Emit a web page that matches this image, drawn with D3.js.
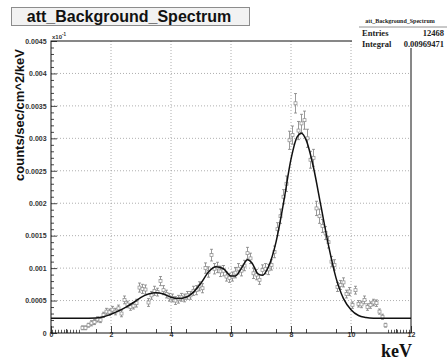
<!DOCTYPE html>
<html>
<head>
<meta charset="utf-8">
<script src="https://cdn.jsdelivr.net/npm/d3@7"></script>
<style>
  body { margin: 0; background: #fff; }
  svg { display: block; }
</style>
</head>
<body>
<div id="chart"></div>
<script>
// bin centres (keV) and measured rates
const energies = [
  1.05, 1.15, 1.25, 1.35, 1.45, 1.55, 1.65, 1.75, 1.85, 1.95,
  2.05, 2.15, 2.25, 2.35, 2.45, 2.55, 2.65, 2.75, 2.85, 2.95,
  3.05, 3.15, 3.25, 3.35, 3.45, 3.55, 3.65, 3.75, 3.85, 3.95,
  4.05, 4.15, 4.25, 4.35, 4.45, 4.55, 4.65, 4.75, 4.85, 4.95,
  5.05, 5.15, 5.25, 5.35, 5.45, 5.55, 5.65, 5.75, 5.85, 5.95,
  6.05, 6.15, 6.25, 6.35, 6.45, 6.55, 6.65, 6.75, 6.85, 6.95,
  7.05, 7.15, 7.25, 7.35, 7.45, 7.55, 7.65, 7.75, 7.85, 7.95,
  8.05, 8.15, 8.25, 8.35, 8.45, 8.55, 8.65, 8.75, 8.85, 8.95,
  9.05, 9.15, 9.25, 9.35, 9.45, 9.55, 9.65, 9.75, 9.85, 9.95,
  10.05, 10.15, 10.25, 10.35, 10.45, 10.55, 10.65, 10.75, 10.85, 10.95,
  11.05, 11.15
];
const rates = [
  0.00008, 0.00008, 0.00012, 0.00015, 0.00017, 0.00021, 0.00020, 0.00028, 0.00033, 0.00032,
  0.00036, 0.00033, 0.00038, 0.00030, 0.00051, 0.00044, 0.00040, 0.00042, 0.00046, 0.00070,
  0.00068, 0.00067, 0.00047, 0.00058, 0.00065, 0.00063, 0.00080, 0.00066, 0.00060, 0.00055,
  0.00054, 0.00050, 0.00052, 0.00055, 0.00054, 0.00058, 0.00058, 0.00065, 0.00066, 0.00072,
  0.00069, 0.00100, 0.00094, 0.00120, 0.00099, 0.00101, 0.00095, 0.00096, 0.00087, 0.00085,
  0.00087, 0.00093, 0.00099, 0.00096, 0.00104, 0.00123, 0.00115, 0.00092, 0.00090, 0.00082,
  0.00097, 0.00099, 0.00098, 0.00105, 0.00125, 0.00160, 0.00180, 0.00210, 0.00230, 0.00297,
  0.00305, 0.00354, 0.00312, 0.00323, 0.00328, 0.00300, 0.00267, 0.00270, 0.00192, 0.00180,
  0.00165, 0.00154, 0.00140, 0.00110, 0.00105, 0.00071, 0.00074, 0.00078, 0.00060, 0.00064,
  0.00043, 0.00066, 0.00045, 0.00044, 0.00051, 0.00040, 0.00043, 0.00047, 0.00046, 0.00033,
  0.00025, 0.00012
];
const rateErrors = [
  0.00003, 0.00003, 0.00003, 0.00004, 0.00004, 0.00004, 0.00004, 0.00004, 0.00005, 0.00005,
  0.00005, 0.00005, 0.00005, 0.00005, 0.00006, 0.00005, 0.00005, 0.00005, 0.00006, 0.00007,
  0.00007, 0.00007, 0.00006, 0.00006, 0.00007, 0.00006, 0.00007, 0.00007, 0.00006, 0.00006,
  0.00006, 0.00006, 0.00006, 0.00006, 0.00006, 0.00006, 0.00006, 0.00007, 0.00007, 0.00007,
  0.00007, 0.00008, 0.00008, 0.00009, 0.00008, 0.00008, 0.00008, 0.00008, 0.00007, 0.00007,
  0.00007, 0.00008, 0.00008, 0.00008, 0.00008, 0.00009, 0.00008, 0.00008, 0.00008, 0.00007,
  0.00008, 0.00008, 0.00008, 0.00008, 0.00009, 0.00010, 0.00011, 0.00011, 0.00012, 0.00014,
  0.00014, 0.00015, 0.00014, 0.00014, 0.00014, 0.00014, 0.00013, 0.00013, 0.00011, 0.00011,
  0.00010, 0.00010, 0.00009, 0.00008, 0.00008, 0.00007, 0.00007, 0.00007, 0.00006, 0.00006,
  0.00005, 0.00006, 0.00005, 0.00005, 0.00006, 0.00005, 0.00005, 0.00005, 0.00005, 0.00004,
  0.00004, 0.00003
];
// empty bins, only their error bars show on the axis
const emptyBins = [
  0.05, 0.15, 0.25, 0.35, 0.45, 0.55, 0.65, 0.75, 0.85, 0.95,
  11.25, 11.35, 11.45, 11.55, 11.65, 11.75, 11.85, 11.95
];
const emptyError = 0.00005;

// fitted model
const fitEnergies = [0, 1.0, 1.5, 1.75, 2.0, 2.25, 2.5, 2.75, 3.0, 3.25, 3.5, 3.75, 4.0, 4.25, 4.5,
  4.75, 5.0, 5.25, 5.5, 5.75, 6.0, 6.15, 6.35, 6.55, 6.7, 6.9, 7.05, 7.25, 7.5, 7.75, 8.0, 8.2,
  8.35, 8.5, 8.75, 9.0, 9.25, 9.5, 9.75, 10.0, 10.25, 10.5, 10.75, 11.0, 12.0];
const fitRates = [0.000226, 0.000226, 0.000232, 0.00025, 0.00029, 0.00034, 0.00040, 0.00047,
  0.00055, 0.00060, 0.00062, 0.00060, 0.00055, 0.00053, 0.00055, 0.00063, 0.00077, 0.00094,
  0.00102, 0.00099, 0.00088, 0.00088, 0.00100, 0.00113, 0.00108, 0.00091, 0.00089, 0.00102,
  0.00140, 0.00200, 0.00268, 0.00302, 0.00308, 0.00298, 0.00255, 0.00195, 0.00135, 0.00085,
  0.00053, 0.00036, 0.00027, 0.00024, 0.000228, 0.000226, 0.000226];

const xTicks = [0, 2, 4, 6, 8, 10, 12];
const yTicks = [0, 0.0005, 0.001, 0.0015, 0.002, 0.0025, 0.003, 0.0035, 0.004, 0.0045];
const yTickLabels = ['0', '0.0005', '0.001', '0.0015', '0.002', '0.0025', '0.003', '0.0035', '0.004', '0.0045'];

const histName = 'att_Background_Spectrum';
const statRows = [['Entries', '12468'], ['Integral', '0.00969471']];

const W = 447, H = 361;
const frame = { left: 51, right: 411, top: 41, bottom: 333 };

const svg = d3.select('#chart').append('svg')
  .attr('width', W)
  .attr('height', H);

const x = d3.scaleLinear().domain([0, 12]).range([frame.left, frame.right]);
const y = d3.scaleLinear().domain([0, 0.0045]).range([frame.bottom, frame.top]);

// grid
const grid = svg.append('g')
  .attr('stroke', '#9a9a9a')
  .attr('stroke-width', 0.8)
  .attr('stroke-dasharray', '1,2');
grid.selectAll('.gx').data(xTicks.slice(1, -1)).enter().append('line')
  .attr('x1', d => x(d)).attr('x2', d => x(d))
  .attr('y1', frame.top).attr('y2', frame.bottom);
grid.selectAll('.gy').data(yTicks.slice(1, -1)).enter().append('line')
  .attr('x1', frame.left).attr('x2', frame.right)
  .attr('y1', d => y(d)).attr('y2', d => y(d));

// axes: ticks point inside the frame like ROOT
const xAxis = d3.axisBottom(x).tickValues(xTicks).tickSize(-7).tickFormat(d3.format('d'));
const xMinor = d3.axisBottom(x).tickValues(d3.range(0.5, 12, 1)).tickSize(-4).tickFormat('');
const yAxis = d3.axisLeft(y).tickValues(yTicks).tickSize(-6).tickFormat((d, i) => yTickLabels[i]);
const yMinor = d3.axisLeft(y)
  .tickValues(d3.range(0.0001, 0.0045, 0.0001).filter(v => Math.abs(v / 0.0005 - Math.round(v / 0.0005)) > 0.01))
  .tickSize(-3).tickFormat('');

function styleAxis(g) {
  g.select('.domain').remove();
  g.selectAll('.tick line').attr('stroke', '#333').attr('stroke-width', 0.9);
  g.selectAll('.tick text')
    .attr('font-family', 'Liberation Sans, Arial, sans-serif')
    .attr('font-weight', 'bold')
    .attr('font-size', 7)
    .attr('fill', '#333');
}

svg.append('g').attr('transform', `translate(0,${frame.bottom})`).call(xAxis).call(styleAxis)
  .selectAll('.tick text').attr('dy', '0.2em');
svg.append('g').attr('transform', `translate(0,${frame.bottom})`).call(xMinor).call(styleAxis);
svg.append('g').attr('transform', `translate(${frame.left},0)`).call(yAxis).call(styleAxis)
  .selectAll('.tick text').attr('dx', '-0.2em');
svg.append('g').attr('transform', `translate(${frame.left},0)`).call(yMinor).call(styleAxis);

// exponent label above the y axis
const expo = svg.append('text')
  .attr('x', frame.left + 1).attr('y', frame.top - 2)
  .attr('font-family', 'Liberation Sans, Arial, sans-serif')
  .attr('font-size', 6).attr('font-weight', 'bold').attr('fill', '#333')
  .text('x10');
expo.append('tspan').attr('dy', -3).attr('font-size', 4.5).text('-1');

// clip for the data
svg.append('clipPath').attr('id', 'plotclip').append('rect')
  .attr('x', frame.left).attr('y', frame.top)
  .attr('width', frame.right - frame.left).attr('height', frame.bottom - frame.top);

const plot = svg.append('g').attr('clip-path', 'url(#plotclip)');

const points = energies.map((e, i) => ({ e, v: rates[i], err: rateErrors[i] }));

// error bars
const bars = plot.append('g').attr('stroke', '#808080').attr('stroke-width', 0.8).attr('fill', 'none');
bars.selectAll('.eb').data(points).enter().append('path')
  .attr('d', d => {
    const cx = x(d.e), y1 = y(d.v + d.err), y2 = y(d.v - d.err);
    return `M${cx},${y1}V${y2}M${cx - 1.5},${y1}H${cx + 1.5}M${cx - 1.5},${y2}H${cx + 1.5}`;
  });
bars.selectAll('.ez').data(emptyBins).enter().append('line')
  .attr('x1', d => x(d)).attr('x2', d => x(d))
  .attr('y1', y(emptyError)).attr('y2', y(0))
  .attr('stroke', '#333');

// open square markers
plot.append('g').selectAll('rect').data(points).enter().append('rect')
  .attr('x', d => x(d.e) - 1.5).attr('y', d => y(d.v) - 1.5)
  .attr('width', 3).attr('height', 3)
  .attr('fill', '#fff').attr('stroke', '#8a8a8a').attr('stroke-width', 0.7);

// fit curve
const fitLine = d3.line()
  .x((d, i) => x(fitEnergies[i]))
  .y(d => y(d))
  .curve(d3.curveMonotoneX);
plot.append('path')
  .datum(fitRates)
  .attr('d', fitLine)
  .attr('fill', 'none')
  .attr('stroke', '#111')
  .attr('stroke-width', 1.5);

// frame
svg.append('rect')
  .attr('x', frame.left).attr('y', frame.top)
  .attr('width', frame.right - frame.left).attr('height', frame.bottom - frame.top)
  .attr('fill', 'none').attr('stroke', '#111').attr('stroke-width', 1);

// axis titles
svg.append('text')
  .attr('transform', `translate(24,115) rotate(-90)`)
  .attr('text-anchor', 'middle')
  .attr('font-family', 'Liberation Sans, Arial, sans-serif')
  .attr('font-weight', 'bold').attr('font-size', 13)
  .attr('fill', '#111')
  .text('counts/sec/cm^2/keV');

svg.append('text')
  .attr('x', 412).attr('y', 357)
  .attr('text-anchor', 'end')
  .attr('font-family', 'Liberation Serif, Times New Roman, serif')
  .attr('font-weight', 'bold').attr('font-size', 18)
  .attr('fill', '#111')
  .text('keV');

// title box
svg.append('rect')
  .attr('x', 11.5).attr('y', 7.5).attr('width', 238).attr('height', 18)
  .attr('fill', '#f2f2f2').attr('stroke', '#8c8c8c').attr('stroke-width', 1);
svg.append('text')
  .attr('x', 129).attr('y', 22)
  .attr('text-anchor', 'middle')
  .attr('font-family', 'Liberation Sans, Arial, sans-serif')
  .attr('font-weight', 'bold').attr('font-size', 16)
  .attr('fill', '#111')
  .text(histName);

// stats box
const stats = svg.append('g');
stats.append('rect')
  .attr('x', 352).attr('y', 14).attr('width', 95).attr('height', 34)
  .attr('fill', '#fff');
stats.append('text')
  .attr('x', 400).attr('y', 23)
  .attr('text-anchor', 'middle')
  .attr('font-family', 'Liberation Serif, Times New Roman, serif')
  .attr('font-weight', 'bold').attr('font-size', 6)
  .attr('fill', '#222')
  .text(histName);
stats.append('line')
  .attr('x1', 359).attr('x2', 447).attr('y1', 27).attr('y2', 27)
  .attr('stroke', '#777').attr('stroke-width', 0.8);
statRows.forEach((row, i) => {
  const by = 36 + i * 11;
  stats.append('text')
    .attr('x', 362).attr('y', by)
    .attr('font-family', 'Liberation Serif, Times New Roman, serif')
    .attr('font-weight', 'bold').attr('font-size', 8.5)
    .attr('fill', '#222')
    .text(row[0]);
  stats.append('text')
    .attr('x', 444).attr('y', by)
    .attr('text-anchor', 'end')
    .attr('font-family', 'Liberation Serif, Times New Roman, serif')
    .attr('font-weight', 'bold').attr('font-size', 8.5)
    .attr('fill', '#222')
    .text(row[1]);
});
</script>
</body>
</html>
